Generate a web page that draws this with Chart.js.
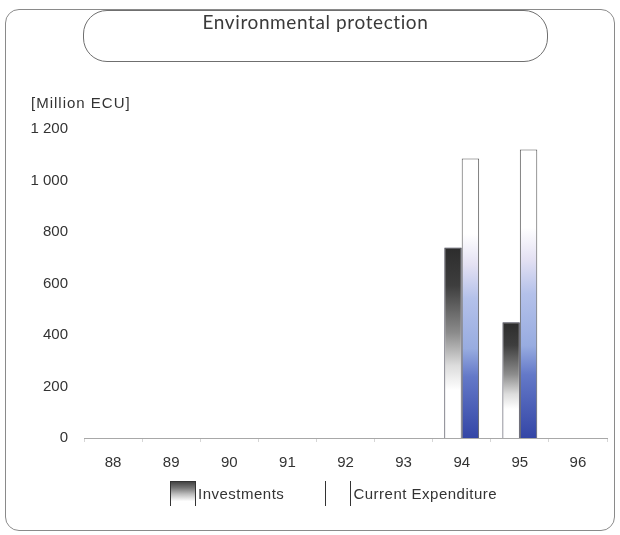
<!DOCTYPE html>
<html>
<head>
<meta charset="utf-8">
<script src="https://cdn.jsdelivr.net/npm/chart.js@4.4.0/dist/chart.umd.min.js"></script>
<style>
  body { margin: 0; background: #fff; }
  #wrap { position: relative; width: 620px; height: 535px; overflow: hidden; font-family: "Liberation Sans", Arial, sans-serif; color: #333; }
  #chart { position: absolute; left: 0; top: 0; }
  #frame { position: absolute; left: 5px; top: 9px; width: 608px; height: 520px; border: 1.5px solid #8a8a8a; border-radius: 14px; }
  #title { position: absolute; left: 83px; top: 10px; width: 463px; height: 50px; border: 1.5px solid #6f6f6f; border-radius: 24px; background: #fff;
           text-align: center; font-family: Lato, "Open Sans", sans-serif; font-size: 19px; letter-spacing: 0.6px; line-height: 22px; color: #3a3a3a; }
  #unit { position: absolute; left: 31px; top: 94px; font-size: 15px; letter-spacing: 1px; }
  #legend { position: absolute; left: 170px; top: 481px; display: flex; align-items: center; font-size: 15px; letter-spacing: 0.5px; }
  .item { display: flex; align-items: center; margin-right: 41px; }
  .box { width: 26px; height: 25px; box-sizing: border-box; border-left: 1.5px solid #333; border-right: 1.5px solid #333; margin-right: 2px; }
</style>
</head>
<body>
<div id="wrap">
  <canvas id="chart" width="620" height="535"></canvas>
  <div id="frame"></div>
  <div id="title">Environmental protection</div>
  <div id="unit">[Million ECU]</div>
  <div id="legend"></div>
</div>
<script>
var years = ['88', '89', '90', '91', '92', '93', '94', '95', '96'];
var investments = [null, null, null, null, null, null, 740, 450, null];
var currentExpenditure = [null, null, null, null, null, null, 1085, 1120, null];
var yTicks = [0, 200, 400, 600, 800, 1000, 1200];

var invStops = [[0, '#2c2c2c'], [0.2, '#3e3e3e'], [0.45, '#8c8c8c'], [0.62, '#dcdcdc'], [0.75, '#ffffff'], [1, '#ffffff']];
var curStops = [[0, '#ffffff'], [0.27, '#ffffff'], [0.38, '#e4e1f3'], [0.5, '#b4c1ea'], [0.68, '#98ace0'], [0.78, '#6479c8'], [1, '#3446a6']];

function barGradient(stops) {
  return function(c) {
    var chart = c.chart;
    if (!chart.chartArea || c.type !== 'data' || !c.parsed || c.parsed.y == null) return '#fff';
    var y = chart.scales.y;
    var g = chart.ctx.createLinearGradient(0, y.getPixelForValue(c.parsed.y), 0, y.getPixelForValue(0));
    stops.forEach(function(s) { g.addColorStop(s[0], s[1]); });
    return g;
  };
}

function spaced(v) {
  return String(v).replace(/\B(?=(\d{3})+(?!\d))/g, ' ');
}

var chart = new Chart(document.getElementById('chart'), {
  type: 'bar',
  data: {
    labels: years,
    datasets: [{
      label: 'Investments',
      data: investments,
      backgroundColor: barGradient(invStops),
      borderColor: '#333344',
      borderWidth: 1,
      borderSkipped: 'start'
    }, {
      label: 'Current Expenditure',
      data: currentExpenditure,
      backgroundColor: barGradient(curStops),
      borderColor: '#555555',
      borderWidth: 1,
      borderSkipped: 'start'
    }]
  },
  options: {
    responsive: false,
    animation: false,
    layout: { padding: { left: 0, right: 13, top: 129, bottom: 51 } },
    datasets: { bar: { categoryPercentage: 0.6, barPercentage: 1.0 } },
    plugins: { legend: { display: false }, tooltip: { enabled: false } },
    scales: {
      x: {
        grid: { offset: true, drawOnChartArea: false, tickLength: 4, color: '#d6d6d6' },
        border: { color: '#a8a8a8' },
        ticks: { padding: 12, color: '#333', font: { family: 'Liberation Sans', size: 15 } }
      },
      y: {
        min: 0,
        max: 1200,
        afterBuildTicks: function(s) { s.ticks = yTicks.map(function(v) { return { value: v }; }); },
        afterFit: function(s) { s.width = 84; },
        grid: { display: false, drawTicks: false },
        border: { display: false },
        ticks: { padding: 16, color: '#333', font: { family: 'Liberation Sans', size: 15 }, callback: function(v) { return spaced(v); } }
      }
    }
  }
});

// legend built from the chart's datasets
var legendBoxes = [
  'linear-gradient(to bottom, #444 0%, #777 25%, #bbb 50%, #fff 80%)',
  '#ffffff'
];
var legend = document.getElementById('legend');
chart.data.datasets.forEach(function(ds, i) {
  var item = document.createElement('div');
  item.className = 'item';
  var box = document.createElement('div');
  box.className = 'box';
  box.style.background = legendBoxes[i];
  if (i === 0) box.style.borderTop = '1.5px solid #333';
  var txt = document.createElement('span');
  txt.textContent = ds.label;
  item.appendChild(box);
  item.appendChild(txt);
  legend.appendChild(item);
});
</script>
</body>
</html>
